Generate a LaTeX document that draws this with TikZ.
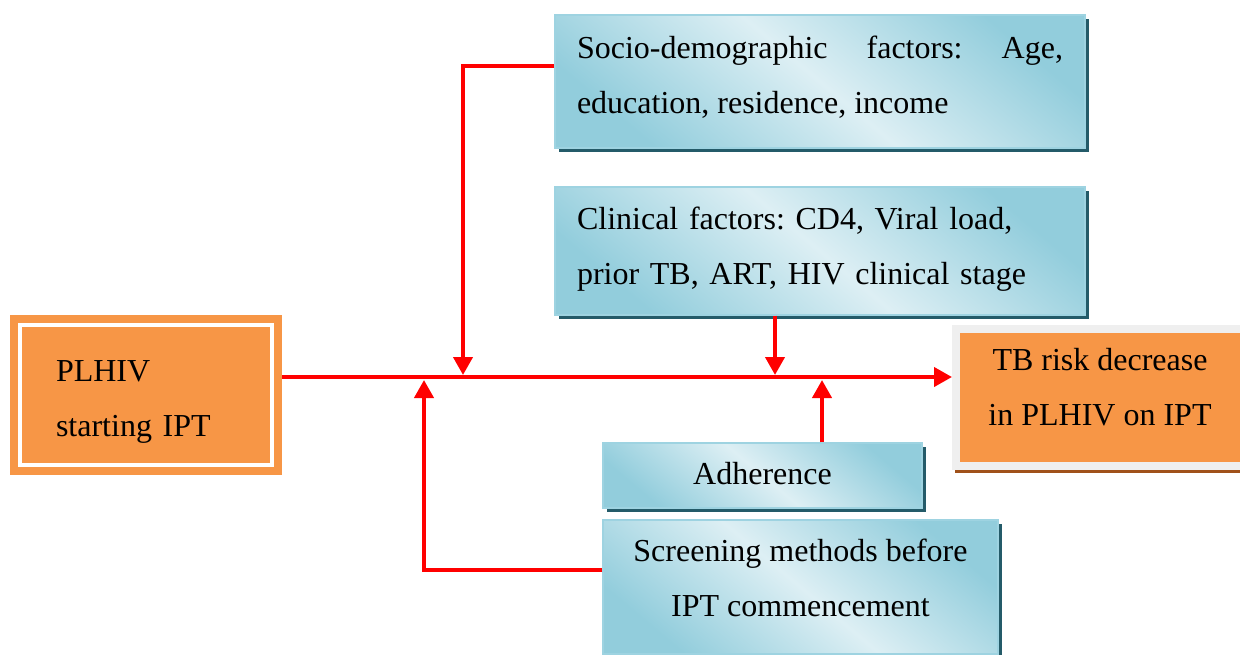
\documentclass[tikz,border=0pt]{standalone}
\usepackage{fontspec}
\setmainfont{Liberation Serif}
\usetikzlibrary{arrows.meta,shadows}
\definecolor{orng}{HTML}{F79646}
\definecolor{bllight}{HTML}{DDEFF4}
\definecolor{bldark}{HTML}{92CDDC}
\definecolor{blline}{HTML}{9ED3E1}
\definecolor{blshadow}{HTML}{245B69}
\definecolor{frame}{HTML}{EFEFEF}
\definecolor{brownsh}{HTML}{A0511A}
\definecolor{arred}{HTML}{FF0000}
\frenchspacing
\hyphenpenalty=10000
\begin{document}
\begin{tikzpicture}[x=0.5pt,y=-0.5pt,
  txt/.style={font=\fontsize{16}{27.5}\selectfont},
  bluebox/.style={draw=blline, line width=0.6pt, shading=axis,
    top color=bldark, bottom color=bldark, middle color=bllight, shading angle=-40,
    drop shadow={shadow xshift=2.2pt, shadow yshift=-2.2pt, fill=blshadow, opacity=1},
    inner sep=0pt},
  orbox/.style={fill=orng, inner sep=0pt},
  lab/.style={txt, inner sep=0pt},
  arr/.style={draw=arred, line width=2pt, -{Triangle[length=9pt,width=9.5pt]}}]
\useasboundingbox (0,0) rectangle (1240,654);

% boxes
\node[bluebox, minimum width=265pt, minimum height=66.5pt,
  label={[lab, text width=243pt, align=justify, yshift=2pt]center:{Socio-demographic factors: Age,\linebreak education, residence, income}}] (socio) at (820,81.5) {};
\node[bluebox, minimum width=265pt, minimum height=64pt,
  label={[lab, text width=243pt, align=left, yshift=1pt]center:{Clinical factors: CD4, Viral load,\\prior TB, ART, HIV clinical stage}}] (clin) at (820,251) {};
\node[bluebox, minimum width=159.5pt, minimum height=32.5pt,
  label={[lab, align=center, yshift=1pt]center:{Adherence}}] (adh) at (762.5,475.5) {};
\node[bluebox, minimum width=197.5pt, minimum height=67pt,
  label={[lab, align=center, yshift=4.5pt]center:{Screening methods before\\IPT commencement}}] (scr) at (800.5,587) {};

\node[orbox, minimum width=136pt, minimum height=80pt,
  label={[lab, text width=90pt, align=left, yshift=-3.5pt]center:{PLHIV\\starting IPT}}] (pl) at (146,395) {};
\draw[white, line width=1.6pt] ([shift={(5.2pt,-5.2pt)}]pl.north west) rectangle ([shift={(-5.2pt,5.2pt)}]pl.south east);

\draw[brownsh, line width=1.2pt] (955,471.5) -- (1240,471.5);
\node[orbox, draw=frame, line width=4pt, minimum width=144pt, minimum height=68.5pt,
  label={[lab, align=center, yshift=5pt]center:{TB risk decrease\\in PLHIV on IPT}}] (tb) at (1100,397.5) {};

% junction coordinates
\coordinate (m) at (0,377);
\coordinate (j1) at (463,375);
\coordinate (s1) at (463,66);
\coordinate (j2) at (775,375);
\coordinate (j3) at (822,380);
\coordinate (s4) at (424,570);
\coordinate (j4) at (424,380);

% connectors
\draw[arr] (pl.east |- m) -- (tb.west |- m);
\draw[arr] (socio.west |- s1) -- (s1) -- (j1);
\draw[arr] (clin.south -| j2) -- (j2);
\draw[arr] (adh.north -| j3) -- (j3);
\draw[arr] (scr.west |- s4) -- (s4) -- (j4);
\end{tikzpicture}
\end{document}
